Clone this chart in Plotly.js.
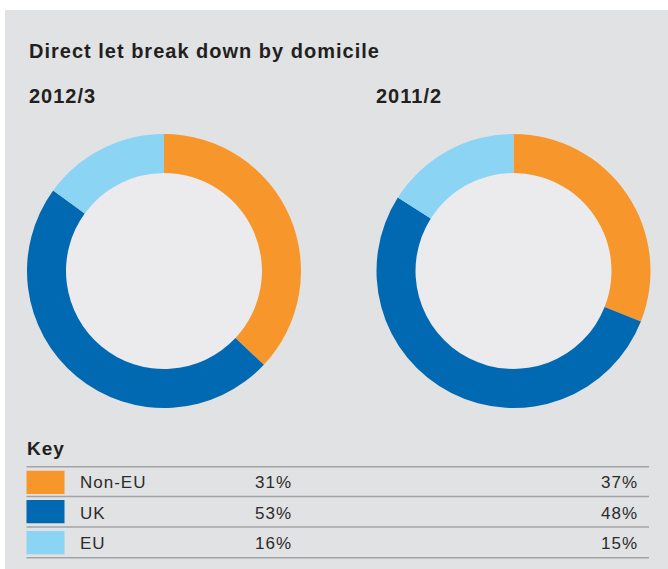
<!DOCTYPE html>
<html>
<head>
<meta charset="utf-8">
<script src="https://cdn.plot.ly/plotly-3.0.1.min.js"></script>
<style>
  html, body { margin: 0; padding: 0; background: #ffffff; }
  #chart { width: 668px; height: 569px; }
  .annotation-text { letter-spacing: 1px; }
</style>
</head>
<body>
<div id="chart"></div>
<script>
// ---- Data ----
const categories = ['Non-EU', 'UK', 'EU'];
const sliceColors = ['#f7972b', '#0069b2', '#8bd4f4'];
const chartTitle = 'Direct let break down by domicile';
const leftLabel = '2012/3';
const rightLabel = '2011/2';
const leftDonutValues = [37, 48, 15];   // as drawn in left ring
const rightDonutValues = [31, 53, 16];  // as drawn in right ring
const keyColumn1 = [31, 53, 16];        // table, first % column
const keyColumn2 = [37, 48, 15];        // table, second % column

// ---- Layout helpers (pixel -> paper) ----
const W = 668, H = 569;
const px = x => x / W;
const py = y => 1 - y / H;
const textColor = '#231f20';
const FONT = 'Liberation Sans, Arial, Helvetica, sans-serif';

const leftC = {x: 164, y: 271}, rightC = {x: 513.5, y: 271};
const R = 137, RIN = 98;

function donut(values, c) {
  return {
    type: 'pie',
    values: values,
    labels: categories,
    marker: {colors: sliceColors, line: {width: 0}},
    sort: false,
    direction: 'clockwise',
    rotation: 0,
    hole: RIN / R,
    textinfo: 'none',
    hoverinfo: 'label+percent',
    showlegend: false,
    domain: {x: [px(c.x - R), px(c.x + R)], y: [py(c.y + R), py(c.y - R)]}
  };
}

const data = [donut(leftDonutValues, leftC), donut(rightDonutValues, rightC)];

const shapes = [
  // grey panel
  {type: 'rect', xref: 'paper', yref: 'paper', x0: px(5), x1: px(668), y0: py(569), y1: py(10),
   fillcolor: '#e1e2e3', line: {width: 0}, layer: 'below'},
  // inner hole fills
  {type: 'circle', xref: 'paper', yref: 'paper', x0: px(leftC.x - RIN), x1: px(leftC.x + RIN),
   y0: py(leftC.y + RIN), y1: py(leftC.y - RIN), fillcolor: '#ebebed', line: {width: 0}, layer: 'below'},
  {type: 'circle', xref: 'paper', yref: 'paper', x0: px(rightC.x - RIN), x1: px(rightC.x + RIN),
   y0: py(rightC.y + RIN), y1: py(rightC.y - RIN), fillcolor: '#ebebed', line: {width: 0}, layer: 'below'}
];

const annotations = [
  {text: '<b>' + chartTitle + '</b>', x: px(27), y: py(51), xanchor: 'left', yanchor: 'middle',
   font: {family: FONT, size: 20, color: textColor}},
  {text: '<b>' + leftLabel + '</b>', x: px(27), y: py(96), xanchor: 'left', yanchor: 'middle',
   font: {family: FONT, size: 20, color: textColor}},
  {text: '<b>' + rightLabel + '</b>', x: px(374), y: py(96), xanchor: 'left', yanchor: 'middle',
   font: {family: FONT, size: 20, color: textColor}},
  {text: '<b>Key</b>', x: px(25), y: py(448), xanchor: 'left', yanchor: 'middle',
   font: {family: FONT, size: 19, color: textColor}}
];

// table lines
const lineYs = [466.7, 496.5, 527, 557.7];
lineYs.forEach(y => shapes.push({type: 'line', xref: 'paper', yref: 'paper', x0: px(26.5), x1: px(649),
  y0: py(y), y1: py(y), line: {color: '#a3a3a5', width: 1.5}}));

// key rows
const swatchTops = [470.7, 500, 531];
const rowCenters = [482.5, 513, 543.5];
categories.forEach((cat, i) => {
  shapes.push({type: 'rect', xref: 'paper', yref: 'paper', x0: px(26.5), x1: px(64.5),
    y0: py(swatchTops[i] + 23.3), y1: py(swatchTops[i]), fillcolor: sliceColors[i], line: {width: 0}});
  annotations.push({text: cat, x: px(78), y: py(rowCenters[i]), xanchor: 'left', yanchor: 'middle',
    font: {family: FONT, size: 17, color: '#2b2b2b'}});
  annotations.push({text: keyColumn1[i] + '%', x: px(294), y: py(rowCenters[i]), xanchor: 'right', yanchor: 'middle',
    font: {family: FONT, size: 17, color: '#2b2b2b'}});
  annotations.push({text: keyColumn2[i] + '%', x: px(640), y: py(rowCenters[i]), xanchor: 'right', yanchor: 'middle',
    font: {family: FONT, size: 17, color: '#2b2b2b'}});
});
annotations.forEach(a => { a.xref = 'paper'; a.yref = 'paper'; a.showarrow = false; });

const layout = {
  width: W, height: H,
  margin: {l: 0, r: 0, t: 0, b: 0},
  paper_bgcolor: '#ffffff',
  plot_bgcolor: 'rgba(0,0,0,0)',
  shapes: shapes,
  annotations: annotations,
  showlegend: false
};

Plotly.newPlot('chart', data, layout, {displayModeBar: false, staticPlot: true});
</script>
</body>
</html>
